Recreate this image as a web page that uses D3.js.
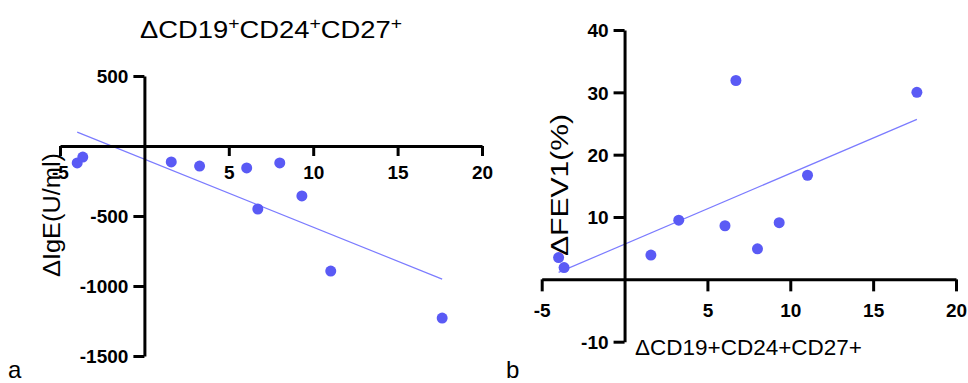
<!DOCTYPE html>
<html>
<head>
<meta charset="utf-8">
<script src="https://cdn.jsdelivr.net/npm/d3@7"></script>
<style>
  html, body { margin: 0; padding: 0; background: #fff; }
  svg { display: block; }
  text { font-family: "Liberation Sans", Arial, sans-serif; }
</style>
</head>
<body>
<svg id="chart" width="968" height="383"></svg>
<script>
// ---- data ----
const cd19Change = [-3.98, -3.65, 1.59, 3.27, 6.06, 8.02, 9.33, 6.72, 11.04, 17.64];
const igeChange  = [-121, -79, -114, -143, -157, -121, -357, -450, -893, -1229];
const fev1Change = [3.5, 1.9, 3.9, 9.5, 8.6, 4.9, 9.1, 31.9, 16.7, 30.0];

const xTickValues   = [-5, 5, 10, 15, 20];
const igeTickValues = [500, -500, -1000, -1500];
const fevTickValues = [40, 30, 20, 10, -10];

const dotColor = "#5a5af5";
const lineColor = "#7b7bff";

const svg = d3.select("#chart");

function linReg(xs, ys) {
  const mx = d3.mean(xs), my = d3.mean(ys);
  let sxy = 0, sxx = 0;
  xs.forEach((x, i) => { sxy += (x - mx) * (ys[i] - my); sxx += (x - mx) * (x - mx); });
  const slope = sxy / sxx;
  return { slope, intercept: my - slope * mx };
}

function styleAxis(g) {
  g.select(".domain").attr("stroke", "#000").attr("stroke-width", 3);
  g.selectAll(".tick line").attr("stroke", "#000").attr("stroke-width", 3);
  g.selectAll(".tick text")
    .attr("fill", "#000")
    .style("font-family", "'Liberation Sans', Arial, sans-serif")
    .style("font-weight", "bold")
    .style("font-size", "19px");
}

const plainFmt = d => String(d);

function panel(opts) {
  const g = svg.append("g");
  const x = d3.scaleLinear().domain([-5, 20]).range(opts.xRange);
  const y = d3.scaleLinear().domain(opts.yDomain).range(opts.yRange);

  // regression line
  const reg = linReg(cd19Change, opts.ys);
  const ext = d3.extent(cd19Change);
  g.append("line")
    .attr("x1", x(ext[0])).attr("y1", y(reg.intercept + reg.slope * ext[0]))
    .attr("x2", x(ext[1])).attr("y2", y(reg.intercept + reg.slope * ext[1]))
    .attr("stroke", lineColor).attr("stroke-width", 1.2);

  // x axis
  const xa = g.append("g")
    .attr("transform", `translate(0,${y(0)})`)
    .call(d3.axisBottom(x).tickValues(xTickValues).tickSize(opts.xTickSize)
      .tickSizeOuter(0).tickPadding(opts.xTickPad).tickFormat(plainFmt));
  styleAxis(xa);

  // y axis
  const ya = g.append("g")
    .attr("transform", `translate(${x(0)},0)`)
    .call(d3.axisLeft(y).tickValues(opts.yTicks).tickSize(11)
      .tickSizeOuter(0).tickPadding(5).tickFormat(plainFmt));
  styleAxis(ya);
  ya.selectAll(".tick text").attr("dy", "0.36em");

  // dots
  g.selectAll("circle.dot").data(cd19Change).enter().append("circle")
    .attr("class", "dot")
    .attr("cx", d => x(d))
    .attr("cy", (d, i) => y(opts.ys[i]))
    .attr("r", 5.5)
    .attr("fill", dotColor);

  return { g, x, y };
}

// ---- panel a ----
panel({
  xRange: [60, 482], yDomain: [-1500, 500], yRange: [356, 76],
  ys: igeChange, yTicks: igeTickValues, xTickSize: 10, xTickPad: 9.5
});

// ---- panel b ----
panel({
  xRange: [541.7, 956], yDomain: [-10, 40], yRange: [341.7, 30],
  ys: fev1Change, yTicks: fevTickValues, xTickSize: 12, xTickPad: 12.5
});

// ---- titles ----
const titleA = svg.append("text")
  .attr("x", 140).attr("y", 37.5)
  .attr("textLength", 262).attr("lengthAdjust", "spacingAndGlyphs")
  .style("font-size", "24px").attr("fill", "#000");
const titleParts = ["\u0394CD19", "+", "CD24", "+", "CD27", "+"];
titleParts.forEach((p, i) => {
  const t = titleA.append("tspan").text(p);
  if (p === "+") {
    t.attr("dy", -9).style("font-size", "17px");
  } else if (i > 0) {
    t.attr("dy", 9);
  }
});

svg.append("text")
  .attr("transform", "translate(60,215) rotate(-90)")
  .attr("text-anchor", "middle")
  .attr("textLength", 124).attr("lengthAdjust", "spacingAndGlyphs")
  .style("font-size", "23px").attr("fill", "#000")
  .text("\u0394IgE(U/ml)");

svg.append("text")
  .attr("transform", "translate(568,185) rotate(-90)")
  .attr("text-anchor", "middle")
  .attr("textLength", 142).attr("lengthAdjust", "spacingAndGlyphs")
  .style("font-size", "23px").attr("fill", "#000")
  .text("\u0394FEV1(%)");

svg.append("text")
  .attr("x", 635).attr("y", 355)
  .attr("textLength", 227).attr("lengthAdjust", "spacingAndGlyphs")
  .style("font-size", "22px").attr("fill", "#000")
  .text("\u0394CD19+CD24+CD27+");

// panel letters
svg.append("text").attr("x", 8).attr("y", 378)
  .style("font-size", "24px").attr("fill", "#000").text("a");
svg.append("text").attr("x", 506).attr("y", 378)
  .style("font-size", "24px").attr("fill", "#000").text("b");
</script>
</body>
</html>
